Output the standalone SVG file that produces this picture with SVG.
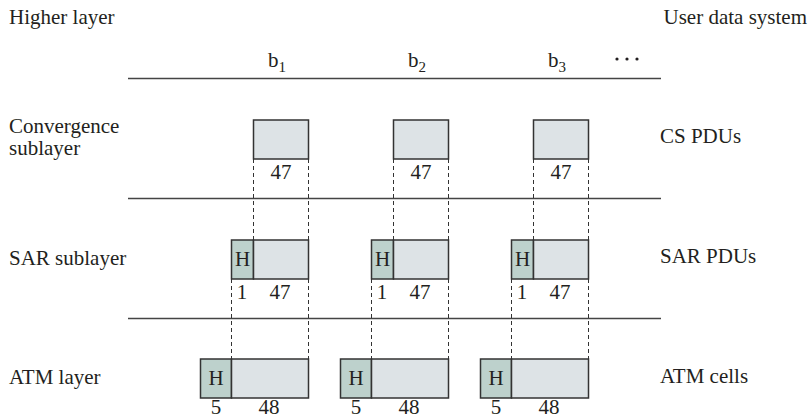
<svg xmlns="http://www.w3.org/2000/svg" width="808" height="419" viewBox="0 0 808 419" font-family="'Liberation Serif', 'Times New Roman', 'DejaVu Serif', serif">
<style>
text{font-family:'Liberation Serif','Times New Roman','DejaVu Serif',serif;font-size:21px;fill:#231f20}
.c{text-anchor:middle}
.box{fill:#dde3e6;stroke:#333;stroke-width:1.5}
.hdr{fill:#bdd1cc;stroke:#333;stroke-width:1.5}
.rule{stroke:#444;stroke-width:1.5;fill:none}
.dash{stroke:#333;stroke-width:1;stroke-dasharray:4,3;fill:none}
.sub{font-size:15px}
</style>
<rect width="808" height="419" fill="#fff"/>
<g id="labels">
<text x="9" y="24">Higher layer</text>
<text x="807" y="24" text-anchor="end">User data system</text>
<text x="9" y="133">Convergence</text>
<text x="9" y="155">sublayer</text>
<text x="9" y="265">SAR sublayer</text>
<text x="9" y="384">ATM layer</text>
<text x="660" y="143">CS PDUs</text>
<text x="660" y="263">SAR PDUs</text>
<text x="660" y="383">ATM cells</text>
<text x="268" y="67">b<tspan class="sub" dy="5">1</tspan></text>
<text x="408" y="67">b<tspan class="sub" dy="5">2</tspan></text>
<text x="548" y="67">b<tspan class="sub" dy="5">3</tspan></text>
<circle cx="617" cy="59" r="1.6" fill="#231f20"/>
<circle cx="627" cy="59" r="1.6" fill="#231f20"/>
<circle cx="637" cy="59" r="1.6" fill="#231f20"/>
</g>
<g id="connectors">
<line class="rule" x1="128" y1="78.5" x2="661" y2="78.5"/>
<line class="rule" x1="128" y1="198.5" x2="661" y2="198.5"/>
<line class="rule" x1="128" y1="318.5" x2="661" y2="318.5"/>
<path class="dash" d="M253.5 159V240M308.5 159V240M393.5 159V240M448.5 159V240M533.5 159V240M588.5 159V240"/>
<path class="dash" d="M231.5 279V359M308.5 279V359M371.5 279V359M448.5 279V359M511.5 279V359M588.5 279V359"/>
</g>
<g id="cs1"><rect class="box" x="253.5" y="120" width="55" height="39"/><text class="c" x="281" y="179">47</text></g>
<g id="cs2"><rect class="box" x="393.5" y="120" width="55" height="39"/><text class="c" x="421" y="179">47</text></g>
<g id="cs3"><rect class="box" x="533.5" y="120" width="55" height="39"/><text class="c" x="561" y="179">47</text></g>
<g id="sar1"><rect class="hdr" x="231.5" y="240" width="22" height="39"/><rect class="box" x="253.5" y="240" width="55" height="39"/><text class="c" x="242.5" y="266">H</text><text class="c" x="242" y="299">1</text><text class="c" x="280" y="299">47</text></g>
<g id="sar2"><rect class="hdr" x="371.5" y="240" width="22" height="39"/><rect class="box" x="393.5" y="240" width="55" height="39"/><text class="c" x="382.5" y="266">H</text><text class="c" x="382" y="299">1</text><text class="c" x="420" y="299">47</text></g>
<g id="sar3"><rect class="hdr" x="511.5" y="240" width="22" height="39"/><rect class="box" x="533.5" y="240" width="55" height="39"/><text class="c" x="522.5" y="266">H</text><text class="c" x="522" y="299">1</text><text class="c" x="560" y="299">47</text></g>
<g id="atm1"><rect class="hdr" x="200.5" y="359" width="31" height="39"/><rect class="box" x="231.5" y="359" width="77" height="39"/><text class="c" x="216" y="385">H</text><text class="c" x="216" y="414">5</text><text class="c" x="269" y="414">48</text></g>
<g id="atm2"><rect class="hdr" x="340.5" y="359" width="31" height="39"/><rect class="box" x="371.5" y="359" width="77" height="39"/><text class="c" x="356" y="385">H</text><text class="c" x="356" y="414">5</text><text class="c" x="409" y="414">48</text></g>
<g id="atm3"><rect class="hdr" x="480.5" y="359" width="31" height="39"/><rect class="box" x="511.5" y="359" width="77" height="39"/><text class="c" x="496" y="385">H</text><text class="c" x="496" y="414">5</text><text class="c" x="549" y="414">48</text></g>
</svg>
